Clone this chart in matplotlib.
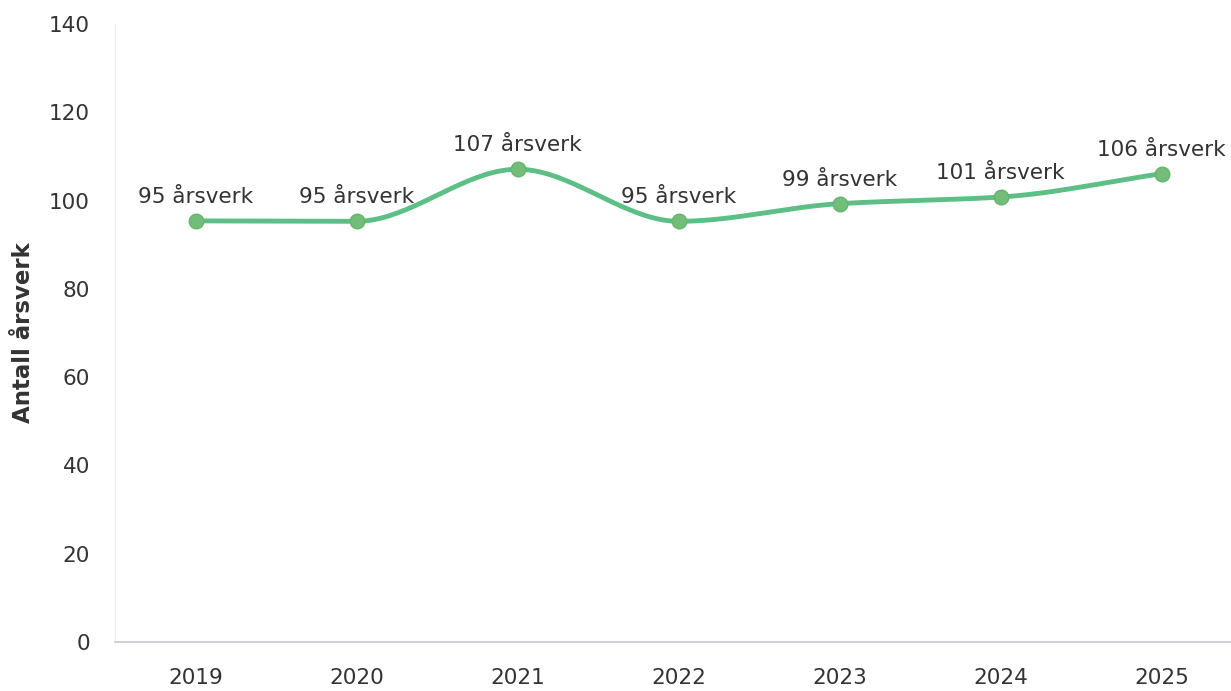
import numpy as np
import matplotlib
matplotlib.use("Agg")
import matplotlib.pyplot as plt

years = ["2019", "2020", "2021", "2022", "2023", "2024", "2025"]
values = [95.4, 95.3, 107.1, 95.3, 99.3, 100.8, 106.1]
labels = ["95 årsverk", "95 årsverk", "107 årsverk", "95 årsverk",
          "99 årsverk", "101 årsverk", "106 årsverk"]
yticks = [0, 20, 40, 60, 80, 100, 120, 140]


def smooth(x, y, n=40):
    # monotone cubic (fritsch-carlson) through the points
    x = np.asarray(x, float)
    y = np.asarray(y, float)
    h = np.diff(x)
    d = np.diff(y) / h
    m = np.zeros_like(y)
    m[0], m[-1] = d[0], d[-1]
    for i in range(1, len(y) - 1):
        if d[i - 1] * d[i] <= 0:
            m[i] = 0.
        else:
            w1 = 2 * h[i] + h[i - 1]
            w2 = h[i] + 2 * h[i - 1]
            m[i] = (w1 + w2) / (w1 / d[i - 1] + w2 / d[i])
    xs, ys = [], []
    t = np.linspace(0, 1, n)
    for i in range(len(x) - 1):
        h00 = 2 * t ** 3 - 3 * t ** 2 + 1
        h10 = t ** 3 - 2 * t ** 2 + t
        h01 = -2 * t ** 3 + 3 * t ** 2
        h11 = t ** 3 - t ** 2
        xs.extend(x[i] + t * h[i])
        ys.extend(h00 * y[i] + h10 * h[i] * m[i] + h01 * y[i + 1] + h11 * h[i] * m[i + 1])
    return np.array(xs), np.array(ys)


def main():
    plt.rcParams['font.family'] = ['DejaVu Sans']
    fig = plt.figure(figsize=(12.31, 6.91), dpi=100)
    ax = fig.add_axes([115 / 1231, 1 - 642 / 691, 1 - 115 / 1231, (642 - 24) / 691])

    x = np.arange(len(years))
    sx, sy = smooth(x, values)
    ax.plot(sx, sy, color="#5dbf86", lw=3.5, solid_capstyle="round", zorder=2)
    ax.scatter(x, values, s=110, color="#72bd78", edgecolor="#66b46e", lw=1, zorder=3)
    for xi, v, lab in zip(x, values, labels):
        ax.annotate(lab, (xi, v), xytext=(0, 10), textcoords="offset points",
                    ha="center", va="bottom", fontsize=15.5, color="#333333")

    ax.set_xlim(-0.5, 6.43)
    ax.set_ylim(0, 140)
    ax.set_xticks(x)
    ax.set_xticklabels(years)
    ax.set_yticks(yticks)
    ax.tick_params(axis="both", length=0, labelsize=15.5, colors="#333333")
    ax.tick_params(axis="x", pad=19)
    ax.tick_params(axis="y", pad=18)
    ax.set_ylabel("Antall årsverk", fontsize=16.5, fontweight="bold", color="#333333", labelpad=10)

    for s in ["top", "right"]:
        ax.spines[s].set_visible(False)
    ax.spines["left"].set_color("#f0f0f0")
    ax.spines["bottom"].set_color("#c8c8d0")
    ax.spines["bottom"].set_linewidth(1.2)

    fig.savefig("out.png", dpi=100)


if __name__ == '__main__':
    main()
